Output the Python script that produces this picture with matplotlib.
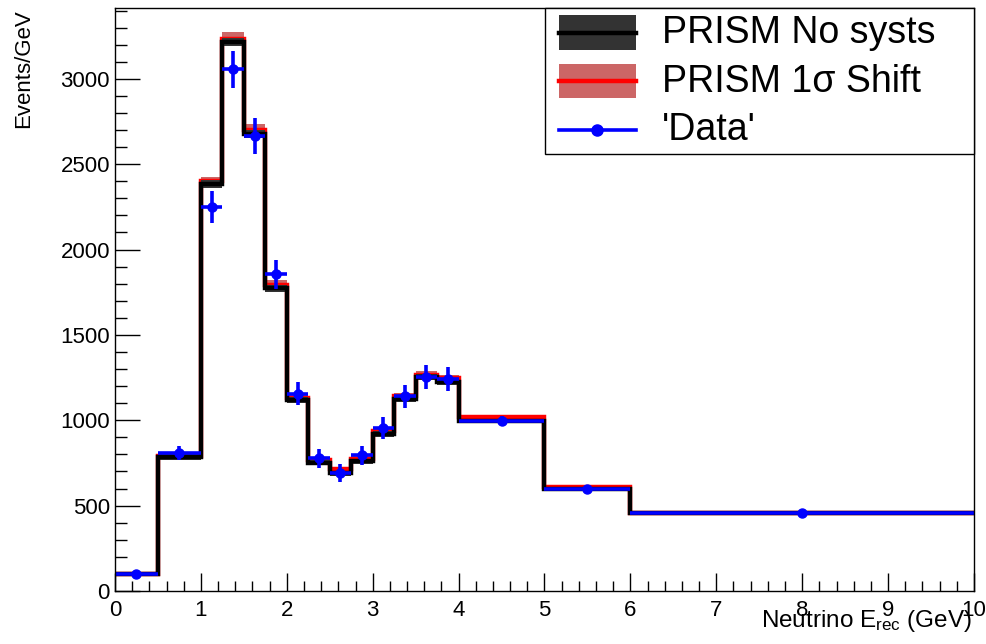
import matplotlib
matplotlib.use("Agg")
import matplotlib.pyplot as plt
import numpy as np
from matplotlib.lines import Line2D
from matplotlib.patches import Rectangle
from matplotlib.ticker import MultipleLocator

plt.rcParams["font.family"] = ["Liberation Sans", "DejaVu Sans"]
plt.rcParams["mathtext.fontset"] = "custom"
plt.rcParams["mathtext.rm"] = "Liberation Sans"
plt.rcParams["mathtext.it"] = "Liberation Sans:italic"

# bin edges (GeV) and contents (events/GeV)
edges = [0, 0.5, 1.0, 1.25, 1.5, 1.75, 2.0, 2.25, 2.5, 2.75, 3.0, 3.25, 3.5,
         3.75, 4.0, 5.0, 6.0, 10.0]
nominal = [100, 785, 2385, 3218, 2677, 1772, 1117, 752, 690, 760, 920, 1125,
           1252, 1224, 997, 598, 455]
nominal_err = [8, 15, 22, 23, 22, 20, 18, 16, 15, 16, 17, 18, 19, 19, 12, 10, 6]
shifted = [102, 790, 2400, 3236, 2700, 1795, 1130, 765, 712, 772, 935, 1140,
           1268, 1248, 1018, 608, 458]
shifted_err = [8, 16, 24, 40, 35, 28, 20, 17, 16, 17, 18, 19, 20, 20, 12, 10, 6]
data = [100, 810, 2250, 3055, 2665, 1855, 1155, 778, 689, 795, 955, 1140,
        1255, 1240, 995, 598, 455]
data_err = [14, 40, 95, 110, 103, 86, 68, 56, 52, 56, 62, 68, 71, 70, 31, 24, 11]

legend_labels = ["PRISM No systs", "PRISM 1σ Shift", "'Data'"]

edges = np.array(edges)
nominal, nominal_err = np.array(nominal), np.array(nominal_err)
shifted, shifted_err = np.array(shifted), np.array(shifted_err)
centers = 0.5 * (edges[1:] + edges[:-1])
halfw = 0.5 * np.diff(edges)

BAND_BLACK = "#333333"
BAND_RED = "#CC6666"
W, H = 987, 644

fig = plt.figure(figsize=(W / 100, H / 100), dpi=100)
ax = fig.add_axes([0.1165, 0.0823, 0.8703, 0.9053])

ax.stairs(shifted + shifted_err, edges, baseline=shifted - shifted_err,
          fill=True, color=BAND_RED, lw=0)
ax.stairs(shifted, edges, baseline=None, color="red", lw=3.2)
ax.stairs(nominal + nominal_err, edges, baseline=nominal - nominal_err,
          fill=True, color=BAND_BLACK, lw=0)
ax.stairs(nominal, edges, baseline=None, color="black", lw=3.2)
ax.errorbar(centers, data, xerr=halfw, yerr=data_err, fmt="o", color="blue",
            ms=6.5, elinewidth=2.6, capsize=0)

ax.set_xlim(0, 10)
ax.set_ylim(0, 3415)
ax.xaxis.set_major_locator(MultipleLocator(1))
ax.xaxis.set_minor_locator(MultipleLocator(0.2))
ax.yaxis.set_major_locator(MultipleLocator(500))
ax.yaxis.set_minor_locator(MultipleLocator(100))
ax.tick_params(which="both", direction="in", top=False, right=False,
               labelsize=16, width=1)
ax.tick_params(axis="x", which="major", length=13, pad=6.5)
ax.tick_params(axis="x", which="minor", length=7)
ax.tick_params(axis="y", which="major", length=18, pad=3.6)
ax.tick_params(axis="y", which="minor", length=8.6)
for s in ax.spines.values():
    s.set_linewidth(1)

ax.set_xlabel(r"Neutrino E$_{\mathrm{rec}}$ (GeV)", fontsize=17.5, loc="right")
ax.xaxis.set_label_coords(0.997, -0.030)
ax.set_ylabel("Events/GeV", fontsize=16, loc="top")
ax.yaxis.set_label_coords(-0.094, 0.997)


# ROOT-style legend box, laid out in figure pixels (top-left origin)
def fx(x):
    return x / W


def fy(y):
    return 1 - y / H


fig.add_artist(Rectangle((fx(545), fy(153.5)), fx(974) - fx(545),
                         fy(8) - fy(153.5), transform=fig.transFigure,
                         facecolor="white", edgecolor="black", lw=1))
row_y = [32.5, 81, 129.5]
hx0, hx1 = 559, 636
for i, (band, line) in enumerate([(BAND_BLACK, "black"), (BAND_RED, "red")]):
    y = row_y[i]
    fig.add_artist(Rectangle((fx(hx0), fy(y + 17)), fx(hx1) - fx(hx0),
                             fy(y - 17) - fy(y + 17), transform=fig.transFigure,
                             facecolor=band, edgecolor="none"))
    fig.add_artist(Line2D([fx(hx0), fx(hx1)], [fy(y), fy(y)],
                          transform=fig.transFigure, color=line, lw=3.2))
fig.add_artist(Line2D([fx(hx0), fx(hx1)], [fy(row_y[2]), fy(row_y[2])],
                      transform=fig.transFigure, color="blue", lw=2.6))
fig.add_artist(Line2D([fx((hx0 + hx1) / 2)], [fy(row_y[2])],
                      transform=fig.transFigure, color="blue", marker="o",
                      ms=8))
baselines = [43.3, 91.7, 140]
for lab, b in zip(legend_labels, baselines):
    fig.text(fx(662), fy(b), lab, fontsize=27, ha="left", va="baseline")

fig.savefig("out.png", dpi=100)
